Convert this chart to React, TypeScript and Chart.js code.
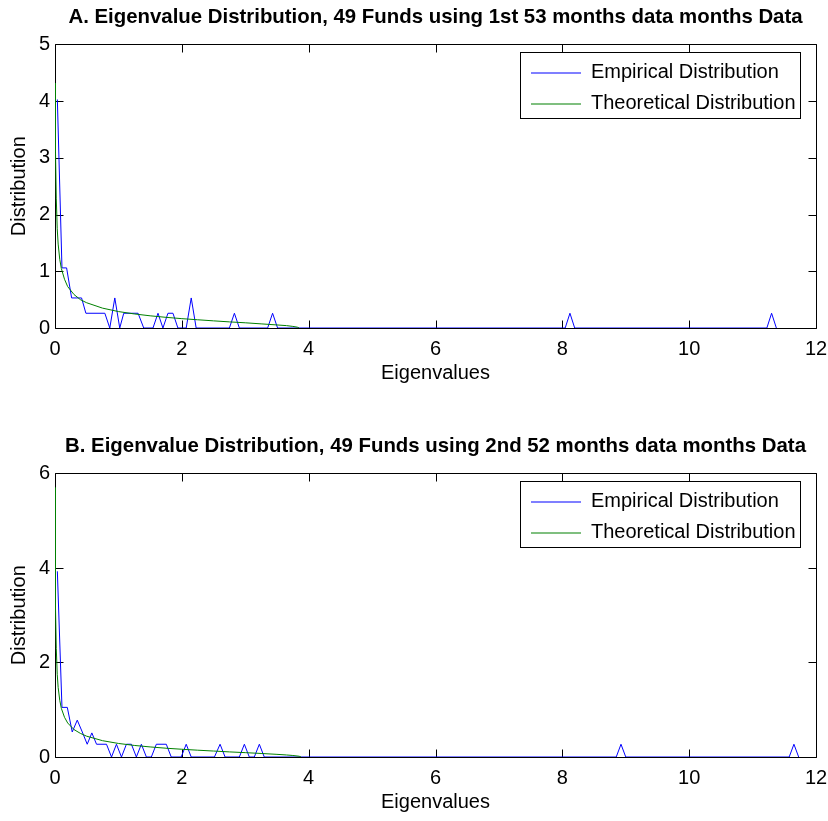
import React, { useEffect, useRef } from 'react';
import { Chart, registerables } from 'chart.js';

Chart.register(...registerables);

const FONT = "'Liberation Sans', Arial, Helvetica, sans-serif";

const TITLE_A = 'A. Eigenvalue Distribution, 49 Funds using 1st 53 months data months Data';
const TITLE_B = 'B. Eigenvalue Distribution, 49 Funds using 2nd 52 months data months Data';
const SERIES_NAMES = ['Empirical Distribution', 'Theoretical Distribution'];
const X_TITLE = 'Eigenvalues';
const Y_TITLE = 'Distribution';

const X_MIN = 0;
const X_MAX = 12;
const X_STEP = 2;
const Y_MAX_A = 5;
const Y_STEP_A = 1;
const Y_MAX_B = 6;
const Y_STEP_B = 2;

// Panel A: empirical (histogram-like line)
const empAX = [0.037, 0.11, 0.183, 0.262, 0.419, 0.487, 0.786, 0.864, 0.943, 1.021, 1.084, 1.31, 1.399, 1.545, 1.624, 1.702, 1.781, 1.86, 1.938, 2.069, 2.148, 2.226, 2.75, 2.829, 2.907, 3.353, 3.431, 3.51, 8.045, 8.12, 8.195, 11.225, 11.3, 11.375];
const empAY = [4.03, 1.06, 1.06, 0.53, 0.53, 0.26, 0.26, 0, 0.53, 0, 0.26, 0.26, 0, 0, 0.26, 0, 0.26, 0.26, 0, 0, 0.53, 0, 0, 0.26, 0, 0, 0.26, 0, 0, 0.26, 0, 0, 0.26, 0];

// Panel A: theoretical
const thAX = [0.003, 0.006, 0.01, 0.02, 0.035, 0.05, 0.075, 0.1, 0.15, 0.2, 0.3, 0.4, 0.5, 0.75, 1.0, 1.25, 1.5, 1.75, 2.0, 2.25, 2.5, 2.75, 3.0, 3.25, 3.5, 3.65, 3.75, 3.82, 3.85];
const thAY = [4.32, 3.75, 3.1, 2.29, 1.75, 1.48, 1.21, 1.05, 0.86, 0.73, 0.59, 0.5, 0.445, 0.35, 0.29, 0.248, 0.215, 0.188, 0.165, 0.145, 0.126, 0.108, 0.092, 0.073, 0.054, 0.042, 0.028, 0.015, 0];

// Panel B: empirical
const empBX = [0.037, 0.11, 0.194, 0.272, 0.351, 0.43, 0.508, 0.581, 0.655, 0.812, 0.891, 0.969, 1.048, 1.126, 1.205, 1.283, 1.362, 1.441, 1.519, 1.598, 1.755, 1.833, 1.99, 2.069, 2.148, 2.514, 2.603, 2.682, 2.907, 2.986, 3.064, 3.143, 3.222, 3.3, 8.85, 8.925, 9.0, 11.577, 11.652, 11.727];
const empBY = [3.93, 1.05, 1.05, 0.53, 0.78, 0.53, 0.27, 0.51, 0.27, 0.27, 0, 0.27, 0, 0.27, 0.27, 0, 0.27, 0, 0, 0.27, 0.27, 0, 0, 0.27, 0, 0, 0.27, 0, 0, 0.27, 0, 0, 0.27, 0, 0, 0.27, 0, 0, 0.27, 0];

// Panel B: theoretical
const thBX = [0.002, 0.005, 0.01, 0.02, 0.035, 0.05, 0.075, 0.1, 0.15, 0.2, 0.3, 0.4, 0.5, 0.75, 1.0, 1.25, 1.5, 1.75, 2.0, 2.25, 2.5, 2.75, 3.0, 3.25, 3.5, 3.65, 3.75, 3.85, 3.88];
const thBY = [5.7, 4.28, 3.18, 2.3, 1.75, 1.47, 1.2, 1.03, 0.84, 0.72, 0.58, 0.5, 0.44, 0.345, 0.287, 0.245, 0.213, 0.186, 0.164, 0.144, 0.126, 0.108, 0.092, 0.075, 0.056, 0.043, 0.032, 0.016, 0];

const EMP_COLOR = '#0000ff';
const THEO_COLOR = '#008000';
const SERIES_COLORS = [EMP_COLOR, THEO_COLOR];

const toPoints = (xs: number[], ys: number[]) => xs.map((x, i) => ({ x, y: ys[i] }));

const LEGEND_W = 280;
const LEGEND_H = 66;

const matlabAxesPlugin = {
  id: 'matlabAxes',
  afterLayout(chart: any) {
    const lg = chart.legend;
    const a = chart.chartArea;
    if (!lg || !a) return;
    lg.left = a.right - 16 - LEGEND_W;
    lg.top = a.top + 7.5;
    lg.width = LEGEND_W;
    lg.height = 400;
    lg.right = lg.left + LEGEND_W;
    lg.bottom = lg.top + 400;
  },
  beforeDatasetsDraw(chart: any) {
    const { ctx, chartArea: a, scales } = chart;
    const xs = scales.x;
    const ys = scales.y;
    const L = Math.round(a.left) + 0.5;
    const R = Math.round(a.right) + 0.5;
    const T = Math.round(a.top) + 0.5;
    const B = Math.round(a.bottom) + 0.5;
    const TL = 8;
    ctx.save();
    ctx.strokeStyle = '#000';
    ctx.lineWidth = 1;
    ctx.beginPath();
    ctx.rect(L, T, R - L, B - T);
    ctx.stroke();
    ctx.beginPath();
    xs.ticks.forEach((t: any) => {
      const px = Math.round(xs.getPixelForValue(t.value)) + 0.5;
      ctx.moveTo(px, B);
      ctx.lineTo(px, B - TL);
      ctx.moveTo(px, T);
      ctx.lineTo(px, T + TL);
    });
    ys.ticks.forEach((t: any) => {
      const py = Math.round(ys.getPixelForValue(t.value)) + 0.5;
      ctx.moveTo(L, py);
      ctx.lineTo(L + TL, py);
      ctx.moveTo(R, py);
      ctx.lineTo(R - TL, py);
    });
    ctx.stroke();
    ctx.restore();
  },
  afterDraw(chart: any) {
    const lg = chart.legend;
    if (!lg) return;
    const { ctx } = chart;
    ctx.save();
    ctx.strokeStyle = '#000';
    ctx.lineWidth = 1;
    ctx.strokeRect(Math.round(lg.left) + 0.5, Math.round(lg.top) + 0.5, LEGEND_W, LEGEND_H);
    ctx.restore();
  },
};

function makeConfig(
  title: string,
  ex: number[],
  ey: number[],
  tx: number[],
  ty: number[],
  yMax: number,
  yStep: number,
  bottomPad: number
): any {
  return {
    type: 'line',
    data: {
      datasets: [
        {
          label: SERIES_NAMES[0],
          data: toPoints(ex, ey),
          borderColor: EMP_COLOR,
          backgroundColor: EMP_COLOR,
          pointBorderColor: EMP_COLOR,
          pointBackgroundColor: EMP_COLOR,
          borderWidth: 1,
          pointRadius: 0,
          tension: 0,
          fill: false,
          order: 1,
        },
        {
          label: SERIES_NAMES[1],
          data: toPoints(tx, ty),
          borderColor: THEO_COLOR,
          backgroundColor: THEO_COLOR,
          pointBorderColor: THEO_COLOR,
          pointBackgroundColor: THEO_COLOR,
          borderWidth: 1,
          pointRadius: 0,
          tension: 0,
          fill: false,
          order: 0,
        },
      ],
    },
    options: {
      responsive: false,
      animation: false,
      devicePixelRatio: 1,
      layout: { padding: { left: 0, right: 12, top: 0, bottom: bottomPad } },
      plugins: {
        title: {
          display: true,
          text: title,
          fullSize: false,
          color: '#000',
          font: { family: FONT, size: 20.4, weight: 'bold' },
          padding: { top: 5, bottom: 15 },
        },
        legend: {
          display: true,
          position: 'chartArea',
          align: 'start',
          labels: {
            color: '#000',
            font: { family: FONT, size: 20 },
            usePointStyle: true,
            pointStyle: 'line',
            pointStyleWidth: 50,
            padding: 11,
            generateLabels: () =>
              SERIES_NAMES.map((name, i) => ({
                text: name,
                datasetIndex: i,
                strokeStyle: SERIES_COLORS[i],
                fillStyle: SERIES_COLORS[i],
                fontColor: '#000',
                lineWidth: 1.2,
                pointStyle: 'line',
                hidden: false,
              })),
          },
        },
        tooltip: { enabled: false },
      },
      scales: {
        x: {
          type: 'linear',
          min: X_MIN,
          max: X_MAX,
          grid: { display: false, drawTicks: false },
          border: { display: false },
          ticks: {
            stepSize: X_STEP,
            color: '#000',
            font: { family: FONT, size: 20 },
            padding: 9,
            maxRotation: 0,
          },
          title: {
            display: true,
            text: X_TITLE,
            color: '#000',
            font: { family: FONT, size: 20 },
            padding: { top: 0, bottom: 3 },
          },
          afterFit: (s: any) => {
            s.height = 60;
            s.paddingLeft = 0;
            s.paddingRight = 0;
          },
        },
        y: {
          type: 'linear',
          min: 0,
          max: yMax,
          grid: { display: false, drawTicks: false },
          border: { display: false },
          ticks: {
            stepSize: yStep,
            color: '#000',
            font: { family: FONT, size: 20 },
            padding: 5,
          },
          title: {
            display: true,
            text: Y_TITLE,
            color: '#000',
            font: { family: FONT, size: 20 },
            padding: { top: 7, bottom: 0 },
          },
          afterFit: (s: any) => {
            s.width = 55;
            s.paddingTop = 0;
            s.paddingBottom = 0;
          },
        },
      },
    },
    plugins: [matlabAxesPlugin],
  };
}

export default function App() {
  const refA = useRef<HTMLCanvasElement>(null);
  const refB = useRef<HTMLCanvasElement>(null);

  useEffect(() => {
    const chartA = new Chart(refA.current as HTMLCanvasElement, makeConfig(TITLE_A, empAX, empAY, thAX, thAY, Y_MAX_A, Y_STEP_A, 41));
    const chartB = new Chart(refB.current as HTMLCanvasElement, makeConfig(TITLE_B, empBX, empBY, thBX, thBY, Y_MAX_B, Y_STEP_B, 4));
    return () => {
      chartA.destroy();
      chartB.destroy();
    };
  }, []);

  return (
    <div style={{ position: 'absolute', left: 0, top: 0, width: 828, height: 821, background: '#fff' }}>
      <canvas ref={refA} width={828} height={429} style={{ position: 'absolute', left: 0, top: 0, display: 'block' }} />
      <canvas ref={refB} width={828} height={392} style={{ position: 'absolute', left: 0, top: 429, display: 'block' }} />
    </div>
  );
}
